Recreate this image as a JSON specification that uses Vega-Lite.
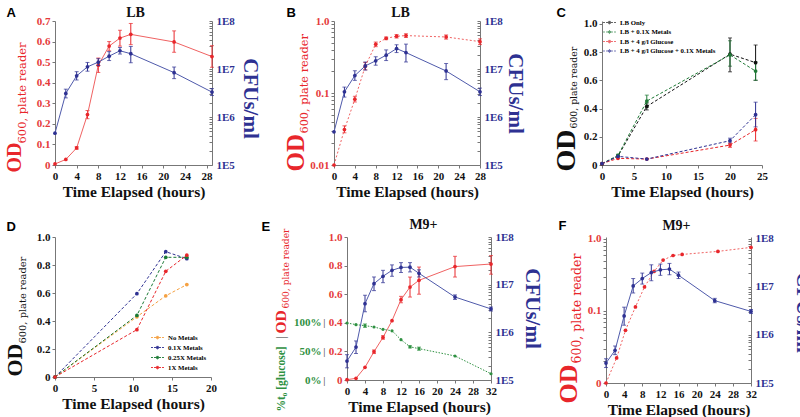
{
"$schema": "https://vega.github.io/schema/vega-lite/v6.json",
"padding": {"left": 3, "top": 5, "right": 0, "bottom": 0},
"background": "white",
"bounds": "flush",
"spacing": 216,
"resolve": {"scale": {"color": "independent"}, "legend": {"color": "independent"}},
"config": {
 "font": "Liberation Serif",
 "view": {"stroke": null},
 "axis": {"grid": false, "domainColor": "#777777", "tickColor": "#777777", "tickSize": 3, "labelPadding": 2, "labelFont": "Liberation Serif", "labelFontWeight": "bold", "labelFontSize": 11, "labelColor": "#111111", "labelFlush": false, "labelOverlap": false, "labelBound": false, "titleFont": "Liberation Serif", "titleFontWeight": "bold", "titleColor": "#111111"},
 "axisRight": {"tickSize": -3, "labelPadding": 7}
},
"datasets": {
 "A_red": [
  {"t":0,"v":0.005},{"t":2,"v":0.027},{"t":4,"v":0.083,"lo":0.077,"hi":0.089},{"t":6,"v":0.245,"lo":0.225,"hi":0.265},{"t":8,"v":0.485,"lo":0.45,"hi":0.52},{"t":10,"v":0.578,"lo":0.555,"hi":0.6},{"t":12,"v":0.617,"lo":0.578,"hi":0.655},{"t":14,"v":0.635,"lo":0.585,"hi":0.688},{"t":22,"v":0.598,"lo":0.548,"hi":0.652},{"t":29,"v":0.527,"lo":0.475,"hi":0.58}
 ],
 "A_blue": [
  {"t":0,"v":460000},{"t":2,"v":3100000,"lo":2500000,"hi":3800000},{"t":4,"v":7200000,"lo":5900000,"hi":8800000},{"t":6,"v":11100000,"lo":9000000,"hi":13700000},{"t":8,"v":13900000,"lo":11800000,"hi":16400000},{"t":10,"v":18500000,"lo":15000000,"hi":23000000},{"t":12,"v":24000000,"lo":20500000,"hi":28000000},{"t":14,"v":20800000,"lo":13500000,"hi":29500000},{"t":22,"v":8400000,"lo":6300000,"hi":11000000},{"t":29,"v":3300000,"lo":2800000,"hi":3900000}
 ],
 "B_red": [
  {"t":0,"v":0.01},{"t":2,"v":0.031,"lo":0.028,"hi":0.035},{"t":4,"v":0.082,"lo":0.075,"hi":0.09},{"t":6,"v":0.236,"lo":0.21,"hi":0.265},{"t":8,"v":0.475,"lo":0.44,"hi":0.51},{"t":10,"v":0.575,"lo":0.55,"hi":0.6},{"t":12,"v":0.614,"lo":0.58,"hi":0.65},{"t":13.8,"v":0.627,"lo":0.59,"hi":0.665},{"t":21.5,"v":0.6,"lo":0.56,"hi":0.64},{"t":28,"v":0.517,"lo":0.47,"hi":0.565}
 ],
 "B_blue": [
  {"t":0,"v":490000},{"t":2,"v":3350000,"lo":2600000,"hi":4200000},{"t":4,"v":7300000,"lo":5800000,"hi":9200000},{"t":6,"v":11600000,"lo":9500000,"hi":14000000},{"t":8,"v":14800000,"lo":12000000,"hi":18000000},{"t":10,"v":19400000,"lo":15000000,"hi":25000000},{"t":12,"v":26600000,"lo":22000000,"hi":32000000},{"t":13.8,"v":22000000,"lo":14000000,"hi":33000000},{"t":21.5,"v":9100000,"lo":6000000,"hi":13000000},{"t":28,"v":3350000,"lo":2800000,"hi":4000000}
 ],
 "C": [
  {"s":"LB Only","t":0,"v":0.007},{"s":"LB Only","t":2.5,"v":0.064},{"s":"LB Only","t":7,"v":0.415,"lo":0.39,"hi":0.44},{"s":"LB Only","t":20,"v":0.785,"lo":0.66,"hi":0.9},{"s":"LB Only","t":24,"v":0.725,"lo":0.6,"hi":0.85},
  {"s":"LB + 0.1X Metals","t":0,"v":0.01},{"s":"LB + 0.1X Metals","t":2.5,"v":0.068,"lo":0.06,"hi":0.076},{"s":"LB + 0.1X Metals","t":7,"v":0.453,"lo":0.41,"hi":0.495},{"s":"LB + 0.1X Metals","t":20,"v":0.78,"lo":0.7,"hi":0.88},{"s":"LB + 0.1X Metals","t":24,"v":0.665,"lo":0.6,"hi":0.73},
  {"s":"LB + 4 g/l Glucose","t":0,"v":0.01},{"s":"LB + 4 g/l Glucose","t":2.5,"v":0.047},{"s":"LB + 4 g/l Glucose","t":7,"v":0.042},{"s":"LB + 4 g/l Glucose","t":20,"v":0.141,"lo":0.125,"hi":0.155},{"s":"LB + 4 g/l Glucose","t":24,"v":0.25,"lo":0.17,"hi":0.33},
  {"s":"LB + 4 g/l Glucose + 0.1X Metals","t":0,"v":0.01},{"s":"LB + 4 g/l Glucose + 0.1X Metals","t":2.5,"v":0.061},{"s":"LB + 4 g/l Glucose + 0.1X Metals","t":7,"v":0.042},{"s":"LB + 4 g/l Glucose + 0.1X Metals","t":20,"v":0.172,"lo":0.155,"hi":0.19},{"s":"LB + 4 g/l Glucose + 0.1X Metals","t":24,"v":0.356,"lo":0.27,"hi":0.445}
 ],
 "D": [
  {"s":"No Metals","t":0,"v":0},{"s":"No Metals","t":10.5,"v":0.43},{"s":"No Metals","t":14.2,"v":0.58},{"s":"No Metals","t":16.9,"v":0.66},
  {"s":"0.1X Metals","t":0,"v":0},{"s":"0.1X Metals","t":10.5,"v":0.595},{"s":"0.1X Metals","t":14.2,"v":0.895},{"s":"0.1X Metals","t":16.9,"v":0.845},
  {"s":"0.25X Metals","t":0,"v":0},{"s":"0.25X Metals","t":10.5,"v":0.44},{"s":"0.25X Metals","t":14.2,"v":0.855},{"s":"0.25X Metals","t":16.9,"v":0.855},
  {"s":"1X Metals","t":0,"v":0},{"s":"1X Metals","t":10.5,"v":0.338},{"s":"1X Metals","t":14.2,"v":0.755},{"s":"1X Metals","t":16.9,"v":0.87}
 ],
 "E_red": [
  {"t":0,"v":0.002},{"t":2,"v":0.012},{"t":4,"v":0.089},{"t":6,"v":0.198,"lo":0.185,"hi":0.21},{"t":8,"v":0.298,"lo":0.285,"hi":0.31},{"t":10,"v":0.415},{"t":12,"v":0.562,"lo":0.54,"hi":0.585},{"t":14,"v":0.65,"lo":0.58,"hi":0.72},{"t":16,"v":0.697,"lo":0.6,"hi":0.79},{"t":24,"v":0.793,"lo":0.72,"hi":0.865},{"t":32,"v":0.811,"lo":0.74,"hi":0.87}
 ],
 "E_green": [
  {"t":0,"v":99.7},{"t":2,"v":96.8},{"t":4,"v":95,"lo":92,"hi":98},{"t":6,"v":92.7},{"t":8,"v":88.6},{"t":10,"v":86},{"t":12,"v":70.5},{"t":14,"v":58,"lo":56,"hi":60},{"t":16,"v":54.8,"lo":52,"hi":57.5},{"t":24,"v":42},{"t":32,"v":11}
 ],
 "E_blue": [
  {"t":0,"v":250000,"lo":180000,"hi":340000},{"t":2,"v":490000,"lo":360000,"hi":660000},{"t":4,"v":4000000,"lo":2700000,"hi":6000000},{"t":6,"v":10500000,"lo":7500000,"hi":14500000},{"t":8,"v":15000000,"lo":11000000,"hi":20000000},{"t":10,"v":20000000,"lo":15000000,"hi":26000000},{"t":12,"v":23000000,"lo":18000000,"hi":29000000},{"t":14,"v":23300000,"lo":18500000,"hi":29000000},{"t":16,"v":17300000,"lo":14500000,"hi":20500000},{"t":24,"v":5500000,"lo":4900000,"hi":6100000},{"t":32,"v":3100000,"lo":2800000,"hi":3400000}
 ],
 "F_red": [
  {"t":0,"v":0.01},{"t":2.35,"v":0.0223},{"t":4.3,"v":0.054},{"t":6.5,"v":0.114},{"t":8.5,"v":0.216},{"t":10.6,"v":0.354},{"t":12.6,"v":0.509},{"t":14.8,"v":0.59},{"t":16.8,"v":0.61},{"t":24.7,"v":0.673},{"t":32,"v":0.765}
 ],
 "F_blue": [
  {"t":0,"v":260000,"lo":210000,"hi":320000},{"t":2,"v":480000,"lo":390000,"hi":590000},{"t":4,"v":2500000,"lo":1600000,"hi":3800000},{"t":6,"v":10500000,"lo":7500000,"hi":15000000},{"t":8,"v":15000000,"lo":11500000,"hi":19500000},{"t":10,"v":20000000,"lo":13500000,"hi":29000000},{"t":12,"v":22800000,"lo":17500000,"hi":30000000},{"t":14,"v":23600000,"lo":18000000,"hi":31000000},{"t":16,"v":17600000,"lo":15000000,"hi":20500000},{"t":24,"v":5200000,"lo":4700000,"hi":5800000},{"t":32,"v":3100000,"lo":2800000,"hi":3400000}
 ]
},
"vconcat": [
 {"hconcat": [
  {"width":157,"height":144,
   "resolve":{"scale":{"x":"independent","y":"independent"}},
   "layer":[
    {"data":{"name":"A_red"},"transform":[{"filter":"isValid(datum.lo)"}],
     "mark":{"type":"errorbar","color":"#e8262b","thickness":1,"ticks":{"size":4}},
     "encoding":{
      "x":{"field":"t","type":"quantitative","scale":{"domain":[0,29],"nice":false},"axis":{"orient":"bottom","values":[0,4,8,12,16,20,24,28],"title":"Time Elapsed (hours)","titleFontSize":15.5,"titlePadding":3}},
      "y":{"field":"lo","type":"quantitative","scale":{"domain":[0,0.7],"nice":false},"axis":{"orient":"left","domain":false,"ticks":false,"labels":false,"title":"600, plate reader","titleColor":"#e8262b","titleFont":"DejaVu Serif","titleFontWeight":"normal","titleFontSize":11.5,"titleX":-30,"titleY":122,"titleAngle":270,"titleAlign":"left","titleBaseline":"alphabetic"}},
      "y2":{"field":"hi"}}},
    {"data":{"name":"A_red"},
     "mark":{"type":"line","color":"#f06262","strokeWidth":1,"point":{"filled":true,"size":14,"color":"#e8262b"}},
     "encoding":{
      "x":{"field":"t","type":"quantitative","scale":{"domain":[0,29],"nice":false},"axis":{"orient":"top","domain":false,"ticks":false,"labels":false,"title":"A","titleX":-49,"titleY":-5,"titleAlign":"left","titleBaseline":"alphabetic","titleAngle":0,"titleFont":"Liberation Sans","titleFontSize":13,"titleFontWeight":"bold","titleColor":"#000000"}},
      "y":{"field":"v","type":"quantitative","scale":{"domain":[0,0.7],"nice":false},"axis":{"orient":"left","values":[0,0.1,0.2,0.3,0.4,0.5,0.6,0.7],"labelExpr":"datum.value == 0 ? '0' : format(datum.value, '.1f')","labelColor":"#e53a3a","title":"OD","titleColor":"#e8262b","titleFontSize":20,"titleX":-35,"titleY":151,"titleAngle":270,"titleAlign":"left","titleBaseline":"alphabetic"}}}},
    {"data":{"name":"A_blue"},"transform":[{"filter":"isValid(datum.lo)"}],
     "mark":{"type":"errorbar","color":"#2e3192","thickness":1,"ticks":{"size":4}},
     "encoding":{
      "x":{"field":"t","type":"quantitative","scale":{"domain":[0,29],"nice":false},"axis":{"orient":"top","domain":false,"ticks":false,"labels":false,"title":"LB","titleX":80,"titleY":-5,"titleAlign":"center","titleBaseline":"alphabetic","titleAngle":0,"titleFontSize":14}},
      "y":{"field":"lo","type":"quantitative","scale":{"type":"log","domain":[100000,100000000],"nice":false},"axis":null},
      "y2":{"field":"hi"}}},
    {"data":{"name":"A_blue"},
     "mark":{"type":"line","color":"#4f5aab","strokeWidth":1,"point":{"filled":true,"size":14,"color":"#2e3192"}},
     "encoding":{
      "x":{"field":"t","type":"quantitative","scale":{"domain":[0,29],"nice":false},"axis":null},
      "y":{"field":"v","type":"quantitative","scale":{"type":"log","domain":[100000,100000000],"nice":false},"axis":{"orient":"right","values":[100000,200000,300000,400000,500000,600000,700000,800000,900000,1000000,2000000,3000000,4000000,5000000,6000000,7000000,8000000,9000000,10000000,20000000,30000000,40000000,50000000,60000000,70000000,80000000,90000000,100000000],"labelExpr":"abs(log(datum.value)/LN10 - round(log(datum.value)/LN10)) < 0.001 ? '1E' + round(log(datum.value)/LN10) : ''","labelColor":"#2e3192","title":"CFUs/ml","titleColor":"#2e3192","titleFontSize":21,"titleX":31,"titleY":77,"titleAngle":90,"titleAlign":"center","titleBaseline":"alphabetic"}}}}
   ]},
  {"width":146,"height":144,
   "resolve":{"scale":{"x":"independent","y":"independent"}},
   "layer":[
    {"data":{"name":"B_red"},"transform":[{"filter":"isValid(datum.lo)"}],
     "mark":{"type":"errorbar","color":"#e8262b","thickness":1,"ticks":{"size":4}},
     "encoding":{
      "x":{"field":"t","type":"quantitative","scale":{"domain":[0,28],"nice":false},"axis":{"orient":"bottom","values":[0,4,8,12,16,20,24,28],"title":"Time Elapsed (hours)","titleFontSize":15.5,"titlePadding":3}},
      "y":{"field":"lo","type":"quantitative","scale":{"type":"log","domain":[0.01,1],"nice":false},"axis":{"orient":"left","domain":false,"ticks":false,"labels":false,"title":"600, plate reader","titleColor":"#e8262b","titleFont":"DejaVu Serif","titleFontWeight":"normal","titleFontSize":11.3,"titleX":-27,"titleY":112,"titleAngle":270,"titleAlign":"left","titleBaseline":"alphabetic"}},
      "y2":{"field":"hi"}}},
    {"data":{"name":"B_red"},
     "mark":{"type":"line","color":"#f06262","strokeWidth":1,"strokeDash":[2,2],"point":{"filled":true,"size":14,"color":"#e8262b"}},
     "encoding":{
      "x":{"field":"t","type":"quantitative","scale":{"domain":[0,28],"nice":false},"axis":{"orient":"top","domain":false,"ticks":false,"labels":false,"title":"B","titleX":-48,"titleY":-5,"titleAlign":"left","titleBaseline":"alphabetic","titleAngle":0,"titleFont":"Liberation Sans","titleFontSize":13,"titleFontWeight":"bold","titleColor":"#000000"}},
      "y":{"field":"v","type":"quantitative","scale":{"type":"log","domain":[0.01,1],"nice":false},"axis":{"orient":"left","values":[0.01,0.02,0.03,0.04,0.05,0.06,0.07,0.08,0.09,0.1,0.2,0.3,0.4,0.5,0.6,0.7,0.8,0.9,1],"labelExpr":"datum.value == 1 ? '1.0' : datum.value == 0.1 ? '0.1' : datum.value == 0.01 ? '0.01' : ''","labelColor":"#e53a3a","title":"OD","titleColor":"#e8262b","titleFontSize":25,"titleX":-31,"titleY":150,"titleAngle":270,"titleAlign":"left","titleBaseline":"alphabetic"}}}},
    {"data":{"name":"B_blue"},"transform":[{"filter":"isValid(datum.lo)"}],
     "mark":{"type":"errorbar","color":"#2e3192","thickness":1,"ticks":{"size":4}},
     "encoding":{
      "x":{"field":"t","type":"quantitative","scale":{"domain":[0,28],"nice":false},"axis":{"orient":"top","domain":false,"ticks":false,"labels":false,"title":"LB","titleX":66,"titleY":-5,"titleAlign":"center","titleBaseline":"alphabetic","titleAngle":0,"titleFontSize":14}},
      "y":{"field":"lo","type":"quantitative","scale":{"type":"log","domain":[100000,100000000],"nice":false},"axis":null},
      "y2":{"field":"hi"}}},
    {"data":{"name":"B_blue"},
     "mark":{"type":"line","color":"#4f5aab","strokeWidth":1,"point":{"filled":true,"size":14,"color":"#2e3192"}},
     "encoding":{
      "x":{"field":"t","type":"quantitative","scale":{"domain":[0,28],"nice":false},"axis":null},
      "y":{"field":"v","type":"quantitative","scale":{"type":"log","domain":[100000,100000000],"nice":false},"axis":{"orient":"right","values":[100000,200000,300000,400000,500000,600000,700000,800000,900000,1000000,2000000,3000000,4000000,5000000,6000000,7000000,8000000,9000000,10000000,20000000,30000000,40000000,50000000,60000000,70000000,80000000,90000000,100000000],"labelExpr":"abs(log(datum.value)/LN10 - round(log(datum.value)/LN10)) < 0.001 ? '1E' + round(log(datum.value)/LN10) : ''","labelColor":"#2e3192","title":"CFUs/ml","titleColor":"#2e3192","titleFontSize":21,"titleX":28,"titleY":72,"titleAngle":90,"titleAlign":"center","titleBaseline":"alphabetic"}}}}
   ]},
  {"width":160,"height":144,
   "resolve":{"scale":{"x":"independent","y":"independent"}},
   "layer":[
    {"data":{"name":"C"},"transform":[{"filter":"isValid(datum.lo)"}],
     "mark":{"type":"errorbar","thickness":1,"ticks":{"size":4}},
     "encoding":{
      "x":{"field":"t","type":"quantitative","scale":{"domain":[0,25],"nice":false},"axis":{"orient":"bottom","values":[0,5,10,15,20,25],"title":"Time Elapsed (hours)","titleFontSize":15.5,"titlePadding":3}},
      "y":{"field":"lo","type":"quantitative","scale":{"domain":[0,1.02],"nice":false},"axis":{"orient":"left","domain":false,"ticks":false,"labels":false,"title":"600, plate reader","titleColor":"#111111","titleFont":"DejaVu Serif","titleFontWeight":"normal","titleFontSize":9.3,"titleX":-26,"titleY":107,"titleAngle":270,"titleAlign":"left","titleBaseline":"alphabetic"}},
      "y2":{"field":"hi"},
      "color":{"field":"s","type":"nominal","scale":{"domain":["LB Only","LB + 0.1X Metals","LB + 4 g/l Glucose","LB + 4 g/l Glucose + 0.1X Metals"],"range":["#111111","#1f7a36","#e8262b","#2e3192"]},"legend":{"orient":"none","legendX":3,"legendY":-3,"title":null,"labelFontSize":6.8,"labelFont":"Liberation Serif","labelFontWeight":"bold","symbolType":"M-1.6,0H-1.15M-0.85,0H-0.4M0.4,0H0.85M1.15,0H1.6M0,-0.4L0.4,0L0,0.4L-0.4,0Z","symbolSize":64,"symbolStrokeWidth":1,"rowPadding":0.5,"labelOffset":6,"padding":0}}}},
    {"data":{"name":"C"},
     "mark":{"type":"line","strokeWidth":1,"strokeDash":[3,2],"point":{"filled":true,"size":14}},
     "encoding":{
      "x":{"field":"t","type":"quantitative","scale":{"domain":[0,25],"nice":false},"axis":{"orient":"top","domain":false,"ticks":false,"labels":false,"title":"C","titleX":-46,"titleY":-5,"titleAlign":"left","titleBaseline":"alphabetic","titleAngle":0,"titleFont":"Liberation Sans","titleFontSize":13,"titleFontWeight":"bold","titleColor":"#000000"}},
      "y":{"field":"v","type":"quantitative","scale":{"domain":[0,1.02],"nice":false},"axis":{"orient":"left","values":[0,0.2,0.4,0.6,0.8,1],"labelExpr":"datum.value == 0 ? '0' : format(datum.value, '.1f')","title":"OD","titleColor":"#111111","titleFontSize":28,"titleX":-28,"titleY":150,"titleAngle":270,"titleAlign":"left","titleBaseline":"alphabetic"}},
      "color":{"field":"s","type":"nominal","scale":{"domain":["LB Only","LB + 0.1X Metals","LB + 4 g/l Glucose","LB + 4 g/l Glucose + 0.1X Metals"],"range":["#111111","#1f7a36","#e8262b","#2e3192"]},"legend":{"orient":"none","legendX":3,"legendY":-3,"title":null,"labelFontSize":6.8,"labelFont":"Liberation Serif","labelFontWeight":"bold","symbolType":"M-1.6,0H-1.15M-0.85,0H-0.4M0.4,0H0.85M1.15,0H1.6M0,-0.4L0.4,0L0,0.4L-0.4,0Z","symbolSize":64,"symbolStrokeWidth":1,"rowPadding":0.5,"labelOffset":6,"padding":0}}}}
   ]}
 ], "spacing": 122, "bounds": "flush", "resolve": {"scale": {"color": "independent"}, "legend": {"color": "independent"}}},
 {"hconcat": [
  {"width":156,"height":140,
   "resolve":{"scale":{"x":"independent","y":"independent"}},
   "layer":[
    {"data":{"name":"D"},
     "mark":{"type":"line","strokeWidth":1,"strokeDash":[3,2]},
     "encoding":{
      "x":{"field":"t","type":"quantitative","scale":{"domain":[0,20],"nice":false},"axis":{"orient":"bottom","values":[0,5,10,15,20],"title":"Time Elapsed (hours)","titleFontSize":15.5,"titlePadding":3}},
      "y":{"field":"v","type":"quantitative","scale":{"domain":[0,1],"nice":false},"axis":{"orient":"left","values":[0,0.2,0.4,0.6,0.8,1],"labelExpr":"datum.value == 0 ? '0' : format(datum.value, '.1f')","title":"OD","titleColor":"#111111","titleFontSize":22,"titleX":-34,"titleY":139,"titleAngle":270,"titleAlign":"left","titleBaseline":"alphabetic"}},
      "color":{"field":"s","type":"nominal","scale":{"domain":["No Metals","0.1X Metals","0.25X Metals","1X Metals"],"range":["#f5a142","#2e3192","#1a7a35","#e8262b"]},"legend":{"orient":"none","legendX":98,"legendY":96,"title":null,"labelFontSize":6.8,"labelFont":"Liberation Serif","labelFontWeight":"bold","symbolType":"M-1.6,0H-1.15M-0.85,0H-0.4M0.4,0H0.85M1.15,0H1.6M0,-0.4L0.4,0L0,0.4L-0.4,0Z","symbolSize":64,"symbolStrokeWidth":1,"rowPadding":1,"labelOffset":6,"padding":0}}}},
    {"data":{"name":"D"},
     "mark":{"type":"point","filled":true,"size":14,"opacity":1},
     "encoding":{
      "x":{"field":"t","type":"quantitative","scale":{"domain":[0,20],"nice":false},"axis":{"orient":"top","domain":false,"ticks":false,"labels":false,"title":"D","titleX":-49,"titleY":-7,"titleAlign":"left","titleBaseline":"alphabetic","titleAngle":0,"titleFont":"Liberation Sans","titleFontSize":13,"titleFontWeight":"bold","titleColor":"#000000"}},
      "y":{"field":"v","type":"quantitative","scale":{"domain":[0,1],"nice":false},"axis":{"orient":"left","domain":false,"ticks":false,"labels":false,"title":"600, plate reader","titleColor":"#111111","titleFont":"DejaVu Serif","titleFontWeight":"normal","titleFontSize":9.9,"titleX":-30,"titleY":106,"titleAngle":270,"titleAlign":"left","titleBaseline":"alphabetic"}},
      "color":{"field":"s","type":"nominal","scale":{"domain":["No Metals","0.1X Metals","0.25X Metals","1X Metals"],"range":["#f5a142","#2e3192","#1a7a35","#e8262b"]},"legend":{"orient":"none","legendX":98,"legendY":96,"title":null,"labelFontSize":6.8,"labelFont":"Liberation Serif","labelFontWeight":"bold","symbolType":"M-1.6,0H-1.15M-0.85,0H-0.4M0.4,0H0.85M1.15,0H1.6M0,-0.4L0.4,0L0,0.4L-0.4,0Z","symbolSize":64,"symbolStrokeWidth":1,"rowPadding":1,"labelOffset":6,"padding":0}}}}
   ]},
  {"hconcat": [
   {"width":144,"height":143,
    "resolve":{"scale":{"x":"independent","y":"independent"}},
    "layer":[
     {"data":{"name":"E_red"},"transform":[{"filter":"isValid(datum.lo)"}],
      "mark":{"type":"errorbar","color":"#e8262b","thickness":1,"ticks":{"size":4}},
      "encoding":{
       "x":{"field":"t","type":"quantitative","scale":{"domain":[0,32],"nice":false},"axis":{"orient":"bottom","values":[0,4,8,12,16,20,24,28,32],"title":"Time Elapsed (hours)","titleFontSize":15.5,"titlePadding":3}},
       "y":{"field":"lo","type":"quantitative","scale":{"domain":[0,1],"nice":false},"axis":{"orient":"left","domain":false,"ticks":false,"labels":false,"title":"600, plate reader","titleColor":"#e8262b","titleFont":"DejaVu Serif","titleFontWeight":"normal","titleFontSize":9.1,"titleX":-59,"titleY":71,"titleAngle":270,"titleAlign":"left","titleBaseline":"alphabetic"}},
       "y2":{"field":"hi"}}},
     {"data":{"name":"E_red"},
      "mark":{"type":"line","color":"#f06262","strokeWidth":1,"point":{"filled":true,"size":14,"color":"#e8262b"}},
      "encoding":{
       "x":{"field":"t","type":"quantitative","scale":{"domain":[0,32],"nice":false},"axis":{"orient":"top","domain":false,"ticks":false,"labels":false,"title":"E","titleX":-86,"titleY":-7,"titleAlign":"left","titleBaseline":"alphabetic","titleAngle":0,"titleFont":"Liberation Sans","titleFontSize":13,"titleFontWeight":"bold","titleColor":"#000000"}},
       "y":{"field":"v","type":"quantitative","scale":{"domain":[0,1],"nice":false},"axis":{"orient":"left","values":[0,0.2,0.4,0.6,0.8,1],"labelExpr":"datum.value == 0 ? '0' : format(datum.value, '.1f')","labelColor":"#e53a3a","title":"OD","titleColor":"#e8262b","titleFontSize":15.5,"titleX":-62,"titleY":96,"titleAngle":270,"titleAlign":"left","titleBaseline":"alphabetic"}}}},
     {"data":{"name":"E_green"},"transform":[{"filter":"isValid(datum.lo)"}],
      "mark":{"type":"errorbar","color":"#2f9142","thickness":1,"ticks":{"size":4}},
      "encoding":{
       "x":{"field":"t","type":"quantitative","scale":{"domain":[0,32],"nice":false},"axis":{"orient":"top","domain":false,"ticks":false,"labels":false,"title":"M9+","titleX":76,"titleY":-9,"titleAlign":"center","titleBaseline":"alphabetic","titleAngle":0,"titleFontSize":14}},
       "y":{"field":"lo","type":"quantitative","scale":{"domain":[0,250],"nice":false},"axis":{"orient":"left","offset":20,"domain":false,"ticks":false,"values":[0,50,100],"labelExpr":"'|'","labelColor":"#333333","labelFontWeight":"normal","labelPadding":2,"title":"|","titleColor":"#333333","titleFontWeight":"normal","titleFontSize":12,"titleX":-43,"titleY":100,"titleAngle":270,"titleAlign":"center","titleBaseline":"alphabetic"}},
       "y2":{"field":"hi"}}},
     {"data":{"name":"E_green"},
      "mark":{"type":"line","color":"#2f9142","strokeWidth":1,"strokeDash":[1.5,1.5],"point":{"filled":true,"size":10,"color":"#2f9142"}},
      "encoding":{
       "x":{"field":"t","type":"quantitative","scale":{"domain":[0,32],"nice":false},"axis":null},
       "y":{"field":"v","type":"quantitative","scale":{"domain":[0,250],"nice":false},"axis":{"orient":"left","offset":24,"domain":false,"ticks":false,"values":[0,50,100],"labelExpr":"datum.value + '%'","labelColor":"#2f9142","labelPadding":2,"title":"%t₀ [glucose]","titleColor":"#2f9142","titleFontSize":11.5,"titleX":-39,"titleY":174,"titleAngle":270,"titleAlign":"left","titleBaseline":"alphabetic"}}}},
     {"data":{"name":"E_blue"},"transform":[{"filter":"isValid(datum.lo)"}],
      "mark":{"type":"errorbar","color":"#2e3192","thickness":1,"ticks":{"size":4}},
      "encoding":{
       "x":{"field":"t","type":"quantitative","scale":{"domain":[0,32],"nice":false},"axis":null},
       "y":{"field":"lo","type":"quantitative","scale":{"type":"log","domain":[100000,100000000],"nice":false},"axis":null},
       "y2":{"field":"hi"}}},
     {"data":{"name":"E_blue"},
      "mark":{"type":"line","color":"#4f5aab","strokeWidth":1,"point":{"filled":true,"size":14,"color":"#2e3192"}},
      "encoding":{
       "x":{"field":"t","type":"quantitative","scale":{"domain":[0,32],"nice":false},"axis":null},
       "y":{"field":"v","type":"quantitative","scale":{"type":"log","domain":[100000,100000000],"nice":false},"axis":{"orient":"right","values":[100000,200000,300000,400000,500000,600000,700000,800000,900000,1000000,2000000,3000000,4000000,5000000,6000000,7000000,8000000,9000000,10000000,20000000,30000000,40000000,50000000,60000000,70000000,80000000,90000000,100000000],"labelExpr":"abs(log(datum.value)/LN10 - round(log(datum.value)/LN10)) < 0.001 ? '1E' + round(log(datum.value)/LN10) : ''","labelColor":"#2e3192","title":"CFUs/ml","titleColor":"#2e3192","titleFontSize":21,"titleX":34,"titleY":71,"titleAngle":90,"titleAlign":"center","titleBaseline":"alphabetic"}}}}
    ]},
   {"width":145,"height":146,
    "resolve":{"scale":{"x":"independent","y":"independent"}},
    "layer":[
     {"data":{"name":"F_red"},
      "mark":{"type":"line","color":"#f06262","strokeWidth":1,"strokeDash":[2,2],"point":{"filled":true,"size":14,"color":"#e8262b"}},
      "encoding":{
       "x":{"field":"t","type":"quantitative","scale":{"domain":[0,32],"nice":false},"axis":{"orient":"bottom","values":[0,4,8,12,16,20,24,28,32],"title":"Time Elapsed (hours)","titleFontSize":15.5,"titlePadding":3}},
       "y":{"field":"v","type":"quantitative","scale":{"type":"log","domain":[0.01,1.066],"nice":false},"axis":{"orient":"left","values":[0.01,0.02,0.03,0.04,0.05,0.06,0.07,0.08,0.09,0.1,0.2,0.3,0.4,0.5,0.6,0.7,0.8,0.9,1],"labelExpr":"datum.value == 1 ? '1.0' : datum.value == 0.1 ? '0.1' : datum.value == 0.01 ? '0' : ''","labelColor":"#e53a3a","title":"OD","titleColor":"#e8262b","titleFontSize":26,"titleX":-30,"titleY":166,"titleAngle":270,"titleAlign":"left","titleBaseline":"alphabetic"}}}},
     {"data":{"name":"F_blue"},"transform":[{"filter":"isValid(datum.lo)"}],
      "mark":{"type":"errorbar","color":"#2e3192","thickness":1,"ticks":{"size":4}},
      "encoding":{
       "x":{"field":"t","type":"quantitative","scale":{"domain":[0,32],"nice":false},"axis":{"orient":"top","domain":false,"ticks":false,"labels":false,"title":"F","titleX":-48,"titleY":-8,"titleAlign":"left","titleBaseline":"alphabetic","titleAngle":0,"titleFont":"Liberation Sans","titleFontSize":13,"titleFontWeight":"bold","titleColor":"#000000"}},
       "y":{"field":"lo","type":"quantitative","scale":{"type":"log","domain":[100000,110060000],"nice":false},"axis":{"orient":"left","domain":false,"ticks":false,"labels":false,"title":"600, plate reader","titleColor":"#e8262b","titleFont":"DejaVu Serif","titleFontWeight":"normal","titleFontSize":12.5,"titleX":-26,"titleY":126,"titleAngle":270,"titleAlign":"left","titleBaseline":"alphabetic"}},
       "y2":{"field":"hi"}}},
     {"data":{"name":"F_blue"},
      "mark":{"type":"line","color":"#4f5aab","strokeWidth":1,"point":{"filled":true,"size":14,"color":"#2e3192"}},
      "encoding":{
       "x":{"field":"t","type":"quantitative","scale":{"domain":[0,32],"nice":false},"axis":{"orient":"top","domain":false,"ticks":false,"labels":false,"title":"M9+","titleX":70,"titleY":-8,"titleAlign":"center","titleBaseline":"alphabetic","titleAngle":0,"titleFontSize":14}},
       "y":{"field":"v","type":"quantitative","scale":{"type":"log","domain":[100000,110060000],"nice":false},"axis":{"orient":"right","values":[100000,200000,300000,400000,500000,600000,700000,800000,900000,1000000,2000000,3000000,4000000,5000000,6000000,7000000,8000000,9000000,10000000,20000000,30000000,40000000,50000000,60000000,70000000,80000000,90000000,100000000],"labelExpr":"abs(log(datum.value)/LN10 - round(log(datum.value)/LN10)) < 0.001 ? '1E' + round(log(datum.value)/LN10) : ''","labelColor":"#2e3192","title":"CFUs/ml","titleColor":"#2e3192","titleFontSize":21,"titleX":45,"titleY":75,"titleAngle":90,"titleAlign":"center","titleBaseline":"alphabetic"}}}}
    ]}
  ], "spacing": 115, "bounds": "flush"}
 ], "spacing": 136, "bounds": "flush", "resolve": {"scale": {"color": "independent"}, "legend": {"color": "independent"}}}
]
}
